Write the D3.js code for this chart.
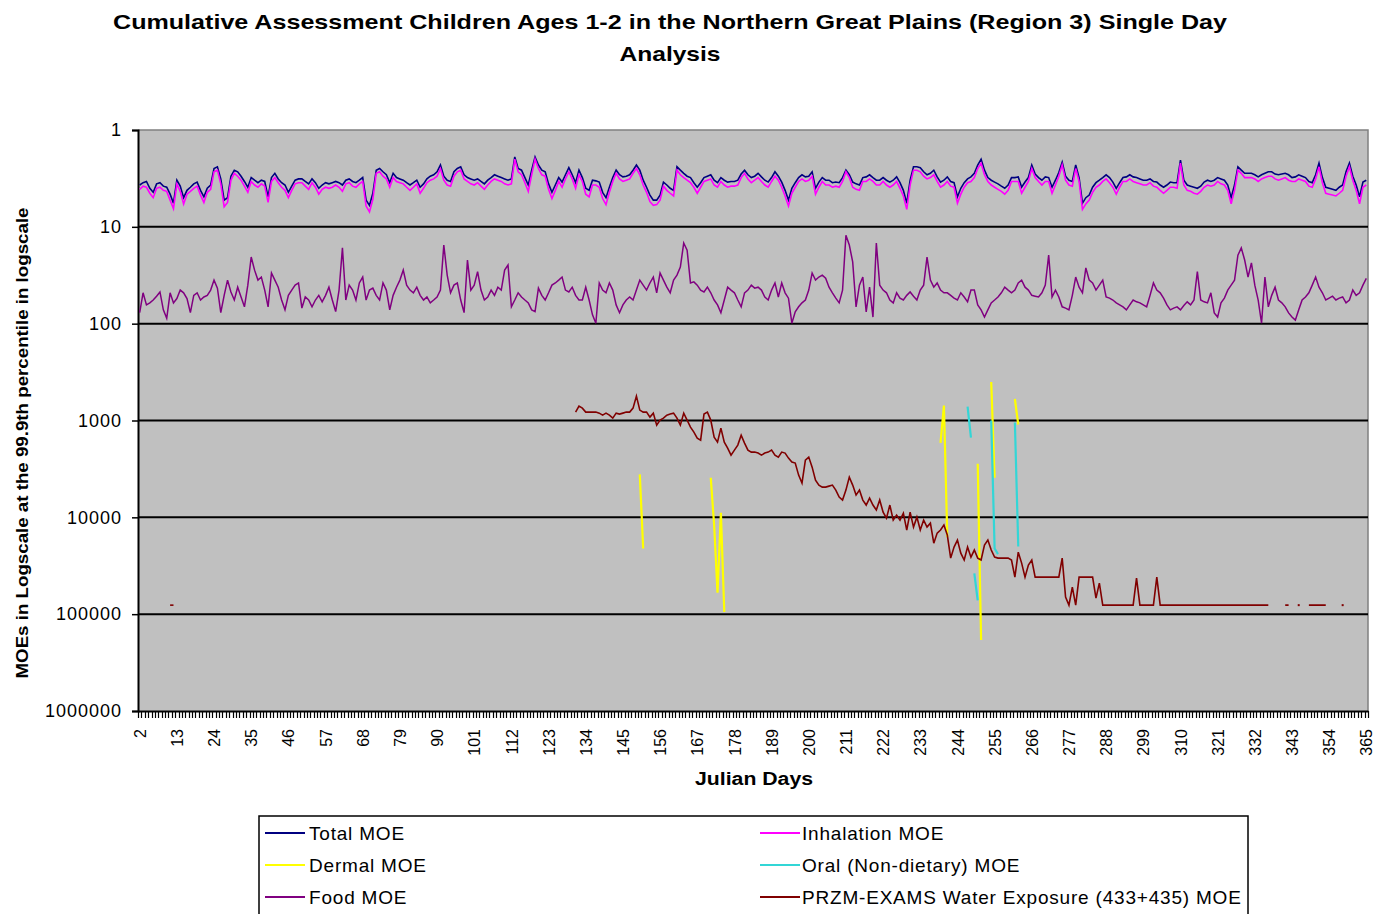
<!DOCTYPE html>
<html><head><meta charset="utf-8">
<script src="https://cdn.jsdelivr.net/npm/d3@7"></script>
<style>body{margin:0;background:#fff;} svg{display:block;font-family:"Liberation Sans",Arial,sans-serif;}</style>
</head><body><svg id="chart" width="1378" height="914"></svg>
<script>
const firstDay = 2, lastDay = 365;
const xLabelDays = [2,13,24,35,46,57,68,79,90,101,112,123,134,145,156,167,178,189,200,211,222,233,244,255,266,277,288,299,310,321,332,343,354,365];
const yTickValues = [1,10,100,1000,10000,100000,1000000];

// Total MOE, days 2..365 (rows of 11 days)
const totalMOE = [
3.7,3.5,3.4,4.0,4.4,3.6,3.5,3.8,3.9,4.6,5.7,
3.3,3.8,5.0,4.2,3.9,3.6,3.45,4.2,4.9,4.0,3.7,
2.5,2.4,3.2,5.3,5.0,3.0,2.6,2.7,3.0,3.4,3.9,
3.1,3.3,3.5,3.3,3.4,4.9,3.1,2.8,3.2,3.5,3.7,
4.4,3.8,3.3,3.2,3.2,3.4,3.6,3.2,3.5,4.0,3.7,
3.5,3.6,3.5,3.4,3.5,3.7,3.3,3.2,3.4,3.5,3.3,
3.1,5.3,6.0,4.5,2.6,2.5,2.7,2.9,3.5,2.8,3.1,
3.2,3.3,3.5,3.7,3.5,3.3,3.9,3.6,3.2,3.0,2.9,
2.7,2.3,3.0,3.3,3.4,2.7,2.5,2.4,2.9,3.1,3.2,
3.3,3.2,3.4,3.6,3.3,3.1,2.9,3.0,3.1,3.2,3.3,
3.2,1.9,2.5,2.6,3.1,3.7,2.6,1.9,2.3,2.6,2.7,
3.6,4.4,3.7,3.1,3.45,2.9,2.45,2.9,3.5,2.6,3.1,
4.0,4.2,3.3,3.35,3.45,4.4,5.0,3.9,3.1,2.6,2.9,
3.05,3.0,2.9,2.6,2.3,2.6,3.3,3.9,4.7,5.3,5.3,
4.7,3.45,3.7,4.0,4.2,2.4,2.6,2.8,3.0,3.1,3.5,
3.9,3.5,3.1,3.0,2.9,3.3,3.5,3.1,3.3,3.45,3.4,
3.4,3.3,2.85,2.6,2.9,3.1,3.0,2.8,3.05,3.3,3.45,
3.1,2.7,3.0,3.45,4.2,5.3,4.0,3.5,3.1,2.9,3.05,
3.0,2.7,4.0,3.45,3.1,3.3,3.3,3.5,3.45,3.5,3.1,
2.6,2.9,3.45,3.6,3.7,3.1,3.05,2.9,3.1,3.3,3.3,
3.1,3.3,3.45,3.3,3.05,3.5,4.2,5.7,3.3,2.4,2.4,
2.45,2.7,2.9,2.8,2.6,3.05,3.45,3.3,3.05,3.4,3.5,
4.9,4.0,3.5,3.2,3.05,2.8,2.3,2.0,2.6,3.1,3.3,
3.45,3.6,3.8,4.0,3.7,3.1,3.1,3.05,3.9,3.45,3.1,
2.3,2.85,3.1,3.3,3.05,3.1,3.9,3.3,2.75,2.15,3.0,
3.3,3.4,2.3,3.1,5.7,5.0,4.7,3.9,3.5,3.3,3.1,
2.9,3.1,3.45,4.0,3.5,3.1,3.05,2.9,3.05,3.1,3.2,
3.3,3.3,3.2,3.4,3.45,3.7,3.9,3.7,3.45,3.5,3.5,
2.05,3.3,3.7,3.8,3.9,4.0,3.8,3.45,3.3,3.4,3.3,
3.1,3.2,3.3,3.7,5.0,3.7,2.4,2.6,2.8,2.8,2.8,
2.9,3.05,2.9,2.8,2.7,2.7,2.85,2.9,2.85,2.8,2.9,
3.1,3.05,2.9,3.0,3.1,3.4,3.5,2.9,2.2,3.1,3.9,
4.0,4.1,4.2,3.9,3.7,2.7,2.2,3.0,3.7,4.9,3.45,
3.3];

// Inhalation MOE, days 2..365
const inhalationMOE = [
4.1,3.8,3.9,4.5,5.0,4.0,3.9,4.2,4.3,5.3,6.5,
3.6,4.3,5.8,4.6,4.3,4.0,3.8,4.7,5.6,4.4,4.1,
2.7,2.6,3.6,6.2,5.6,3.3,2.8,3.0,3.3,3.8,4.4,
3.4,3.7,3.9,3.6,3.8,5.6,3.4,3.1,3.5,3.9,4.2,
5.0,4.2,3.6,3.5,3.5,3.8,4.1,3.5,3.9,4.6,4.1,
3.9,4.0,3.9,3.7,3.9,4.3,3.6,3.5,3.8,3.9,3.6,
3.4,6.1,7.0,5.2,2.8,2.7,3.0,3.2,3.9,3.1,3.4,
3.5,3.6,3.9,4.2,3.9,3.6,4.5,4.0,3.5,3.3,3.2,
3.0,2.5,3.3,3.7,3.8,3.0,2.7,2.6,3.2,3.4,3.6,
3.7,3.5,3.8,4.1,3.7,3.4,3.2,3.3,3.4,3.6,3.7,
3.6,2.0,2.7,2.9,3.5,4.3,2.9,2.0,2.5,2.9,3.0,
4.1,5.1,4.2,3.4,3.9,3.2,2.7,3.2,4.0,2.9,3.4,
4.6,4.9,3.7,3.7,3.9,5.1,5.9,4.4,3.4,2.8,3.2,
3.4,3.3,3.2,2.8,2.5,2.9,3.7,4.4,5.5,6.0,5.9,
5.3,3.8,4.2,4.5,4.8,2.6,2.9,3.1,3.3,3.5,3.9,
4.5,3.9,3.4,3.3,3.2,3.7,3.9,3.4,3.7,3.9,3.8,
3.8,3.7,3.1,2.8,3.2,3.5,3.3,3.1,3.4,3.7,3.9,
3.4,3.0,3.3,3.9,4.8,6.1,4.5,3.9,3.4,3.2,3.4,
3.3,3.0,4.6,3.9,3.4,3.7,3.7,3.9,3.8,3.9,3.4,
2.7,3.1,3.9,4.1,4.2,3.4,3.4,3.2,3.4,3.7,3.7,
3.4,3.7,3.9,3.7,3.4,4.0,4.8,6.6,3.7,2.6,2.6,
2.7,3.0,3.2,3.1,2.9,3.4,3.9,3.7,3.4,3.8,3.9,
5.7,4.6,3.9,3.5,3.4,3.1,2.5,2.2,2.9,3.4,3.7,
3.9,4.1,4.3,4.6,4.2,3.4,3.4,3.4,4.5,3.9,3.4,
2.5,3.1,3.4,3.7,3.4,3.4,4.5,3.7,3.0,2.3,3.3,
3.7,3.8,2.5,3.4,6.6,5.8,5.3,4.4,3.9,3.7,3.4,
3.2,3.5,3.9,4.6,3.9,3.4,3.4,3.2,3.4,3.5,3.6,
3.7,3.7,3.5,3.8,3.9,4.2,4.5,4.2,3.9,3.9,4.0,
2.2,3.7,4.2,4.3,4.5,4.6,4.3,3.9,3.7,3.8,3.7,
3.4,3.6,3.7,4.2,5.8,4.2,2.6,2.8,3.1,3.1,3.1,
3.2,3.4,3.2,3.1,3.0,3.0,3.2,3.3,3.2,3.1,3.3,
3.4,3.4,3.2,3.3,3.4,3.8,3.9,3.2,2.4,3.5,4.5,
4.6,4.7,4.8,4.5,4.2,3.0,2.4,3.3,4.2,5.8,3.9,
3.7];

// Food MOE, days 2..365
const foodMOE = [
77,48,64,61,57,52,47,72,88,48,61,
55,45,48,55,77,51,48,57,53,51,45,
35.5,43,77,51,35.5,47,57,42,53,67,40,
20.5,28,35.5,33,45,67,30,35.5,42,57,72,
51,45,40,38,69,53,57,67,57,51,59.5,
51,42,57,75,45,16.5,57,40,45,57,38,
33,57,45,43,51,57,38,45,72,51,42,
35.5,28,40,45,48,42,51,57,53,61,57,
53,45,15.4,31.5,48,40,38,57,77,22,45,
40,29,45,57,53,45,51,42,45,28,24.8,
67,57,48,53,57,61,72,75,43,51,57,
48,40,38,35.5,33,45,47,42,51,57,57,
42,57,81,99,38,45,48,38,45,64,77,
64,57,53,57,45,35.5,40,45,38,33,48,
30,35.5,42,48,35.5,31.5,26,14.7,17.4,38,37,
40,45,47,42,48,57,64,77,57,42,45,
48,57,67,48,45,40,43,42,45,53,57,
45,38,53,38,48,54.5,99,75.6,67,61,57,
45,30,35.5,33,31.5,34,42,48,54.5,61,45,
12.2,15.4,23,67,40,33,75.6,42,85.5,14.7,40,
45,48,57,61,48,54.5,57,51,47,52,57,
45,40,20.5,35.5,42,38,45,48,48,51,54.5,
57,48,53,59.5,45,45,64,72,85.5,72,61,
57,53,48,42,45,48,45,38,35.5,42,45,
51,52,53,48,40,19.6,53,45,53,67,69,
72,51,33,42,48,26.6,35.5,38,45,40,35.5,
53,54.5,57,61,64,67,72,64,57,59.5,61,
64,67,51,38,45,48,54.5,64,72,69,67,
72,65,59.5,64,57,29,57,59.5,61,48,77.5,
85.5,61,54.5,45,40,35.5,19.6,16.5,22,33,23.6,
40,57,99,33,67,51,42,57,61,67,77.5,
85.5,92,72,57,53,48,40,33,42,48,57,
54.5,52,57,54.5,53,61,57,45,51,48,40,
34];

// PRZM-EXAMS water exposure MOE, days 131..358 (null = no value)
const waterStartDay = 131;
const waterMOE = [
819,710,745,819,819,819,819,839,880,839,
880,944,839,859,839,819,819,745,560,781,
819,819,922,839,1116,990,944,880,859,839,
944,1116,839,990,1170,1318,1521,1594,859,819,
990,1485,1671,1199,1671,1928,2277,2022,1795,1416,
1711,2022,2120,2120,2171,2277,2171,2120,2022,2277,
2388,2120,2171,2445,2690,2754,3663,4431,2565,2388,
3030,4125,4645,4875,4875,4760,4645,5231,6185,6634,
5231,3843,4645,5891,5231,6634,7471,6333,7471,8414,
6634,8830,10190,7471,10670,9475,10670,9050,13533,8830,
12620,9950,13533,10670,12620,11480,18480,14550,13533,12017,
15240,26380,20300,17163,23440,27605,20300,25770,21767,26380,
27605,19328,17163,21767,25770,26380,26380,26380,26380,27605,
41490,22900,29700,41490,31088,27605,41490,41490,41490,41490,
41490,41490,41490,41490,26380,66700,80700,52600,80700,41490,
41490,41490,41490,41490,68320,47830,80700,80700,80700,80700,
80700,80700,80700,80700,80700,80700,42470,80700,80700,80700,
80700,80700,41490,80700,80700,80700,80700,80700,80700,80700,
80700,80700,80700,80700,80700,80700,80700,80700,80700,80700,
80700,80700,80700,80700,80700,80700,80700,80700,80700,80700,
80700,80700,80700,80700,80700,80700,null,null,null,null,
80700,80700,null,null,80700,null,null,80700,80700,80700,
80700,80700,80700,null,null,null,null,80700];
const waterEarlyDays = [11,12];
const waterEarlyMOE = [80700,80700];

// Dermal MOE (sparse; null separates runs)
const dermalDays = [150,151,null,171,172,173,174,175,null,239,240,241,null,250,251,null,254,255,null,261,262];
const dermalMOE  = [3600,21000,null,3900,12000,60000,9000,95000,null,1700,700,16000,null,2800,185000,null,400,3900,null,600,1100];

// Oral (non-dietary) MOE (sparse)
const oralDays = [247,248,null,249,250,null,254,255,256,null,261,262];
const oralMOE  = [720,1500,null,38000,72000,null,1000,21000,24000,null,1050,20000];

const seriesNames = ["Total MOE","Inhalation MOE","Dermal MOE","Oral (Non-dietary) MOE","Food MOE","PRZM-EXAMS Water Exposure (433+435) MOE"];
const seriesColors = ["#000080","#FF00FF","#FFFF00","#33D6D6","#800080","#800000"];

const titleLines = ["Cumulative Assessment Children Ages 1-2 in the Northern Great Plains (Region 3) Single Day","Analysis"];
const xTitle = "Julian Days";
const yTitle = "MOEs in Logscale at the 99.9th percentile in logscale";

// ---------- drawing ----------
const svg = d3.select("#chart");
const M = {left:138, right:1368, top:130, bottom:711};
const x = d3.scaleLinear().domain([firstDay-0.5, lastDay+0.5]).range([M.left, M.right]);
const y = d3.scaleLog().domain([1, 1e6]).range([M.top, M.bottom]);

svg.append("rect").attr("x",0).attr("y",0).attr("width",1378).attr("height",914).attr("fill","#fff");

// titles
const titleWidths = [1114, 101];
svg.append("g").selectAll("text").data(titleLines).join("text")
  .attr("x",670).attr("y",(d,i)=>29+i*32).attr("text-anchor","middle")
  .attr("font-size",21).attr("font-weight","bold").attr("fill","#000")
  .attr("textLength",(d,i)=>titleWidths[i]).attr("lengthAdjust","spacingAndGlyphs").text(d=>d);

// plot background
svg.append("rect").attr("x",M.left).attr("y",M.top).attr("width",M.right-M.left).attr("height",M.bottom-M.top).attr("fill","#C0C0C0");
svg.append("path").attr("d",`M${M.left},${M.top}H${M.right}V${M.bottom}`).attr("fill","none").attr("stroke","#808080").attr("stroke-width",1.5);

// gridlines
svg.append("g").selectAll("line").data(yTickValues.slice(1,-1)).join("line")
  .attr("x1",M.left).attr("x2",M.right).attr("y1",d=>y(d)).attr("y2",d=>y(d))
  .attr("stroke","#000").attr("stroke-width",2);

// y axis
const yAxis = svg.append("g").attr("transform",`translate(${M.left},0)`)
  .call(d3.axisLeft(y).tickValues(yTickValues).tickFormat(d=>String(d)).tickSize(6).tickPadding(10));
yAxis.select(".domain").attr("stroke","#000").attr("stroke-width",2);
yAxis.selectAll(".tick line").attr("stroke","#000").attr("stroke-width",1.5);
yAxis.selectAll("text").attr("font-size",18).attr("fill","#000").attr("font-family","'Liberation Sans',Arial,sans-serif").attr("letter-spacing",1);

// x axis: comb ticks at category boundaries
const boundaries = d3.range(firstDay-0.5, lastDay+1, 1);
svg.append("g").selectAll("line").data(boundaries).join("line")
  .attr("x1",d=>Math.round(x(d))+0.5).attr("x2",d=>Math.round(x(d))+0.5)
  .attr("y1",M.bottom).attr("y2",M.bottom+7).attr("stroke","#000").attr("stroke-width",1.2);
const xAxis = svg.append("g").attr("transform",`translate(0,${M.bottom})`)
  .call(d3.axisBottom(x).tickValues(xLabelDays).tickFormat(d=>String(d)).tickSize(0));
xAxis.select(".domain").attr("stroke","#000").attr("stroke-width",2);
xAxis.selectAll("text")
  .attr("transform","rotate(-90)").attr("x",-18).attr("y",0).attr("dy","0.35em")
  .attr("text-anchor","end").attr("font-size",16).attr("fill","#000")
  .attr("font-family","'Liberation Sans',Arial,sans-serif");

// axis titles
svg.append("text").attr("x",754).attr("y",785).attr("text-anchor","middle")
  .attr("font-size",18).attr("font-weight","bold")
  .attr("textLength",118).attr("lengthAdjust","spacingAndGlyphs").text(xTitle);
svg.append("text").attr("transform","translate(28,443) rotate(-90)").attr("text-anchor","middle")
  .attr("font-size",17).attr("font-weight","bold")
  .attr("textLength",471).attr("lengthAdjust","spacingAndGlyphs").text(yTitle);

// series
const plot = svg.append("g");
const line = d3.line().defined(p=>p.v!=null).x(p=>x(p.day)).y(p=>y(p.v));
function dailySeries(vals, start){ return vals.map((v,i)=>({day:start+i, v:v})); }
function pairSeries(days, vals){ return days.map((d,i)=>({day:d, v:vals[i]})); }

const seriesData = [
  dailySeries(totalMOE, firstDay),
  dailySeries(inhalationMOE, firstDay),
  pairSeries(dermalDays, dermalMOE),
  pairSeries(oralDays, oralMOE),
  dailySeries(foodMOE, firstDay),
  dailySeries(waterMOE, waterStartDay)
];
const widths = [1.6,1.6,2.2,2.2,1.5,1.6];
seriesData.forEach((data,i)=>{
  plot.append("path").datum(data).attr("d",line).attr("fill","none")
    .attr("stroke",seriesColors[i]).attr("stroke-width",widths[i]).attr("stroke-linejoin","miter");
});
plot.append("path").datum(pairSeries(waterEarlyDays, waterEarlyMOE)).attr("d",line)
  .attr("fill","none").attr("stroke",seriesColors[5]).attr("stroke-width",1.6);
// isolated water points
const wd = seriesData[5];
const isolated = wd.filter((p,i)=>p.v!=null && (i===0||wd[i-1].v==null) && (i===wd.length-1||wd[i+1].v==null));
plot.selectAll("rect.iso").data(isolated).join("rect").attr("class","iso")
  .attr("x",p=>x(p.day)-1).attr("y",p=>y(p.v)-1).attr("width",2).attr("height",2).attr("fill",seriesColors[5]);

// legend
const lg = svg.append("g");
lg.append("rect").attr("x",259).attr("y",816).attr("width",989).attr("height",110)
  .attr("fill","#fff").attr("stroke","#000").attr("stroke-width",1.5);
const legendItems = seriesNames.map((n,i)=>({name:n, color:seriesColors[i], col:i%2, row:Math.floor(i/2)}));
const li = lg.selectAll("g.item").data(legendItems).join("g").attr("class","item")
  .attr("transform",d=>`translate(${d.col?760:265},${833+d.row*32})`);
li.append("line").attr("x1",0).attr("x2",40).attr("y1",0).attr("y2",0).attr("stroke",d=>d.color).attr("stroke-width",2);
li.append("text").attr("x",d=>d.col?42:44).attr("y",0).attr("dy","0.35em")
  .attr("font-size",19).attr("letter-spacing",0.8).attr("fill","#000").text(d=>d.name);
</script></body></html>
